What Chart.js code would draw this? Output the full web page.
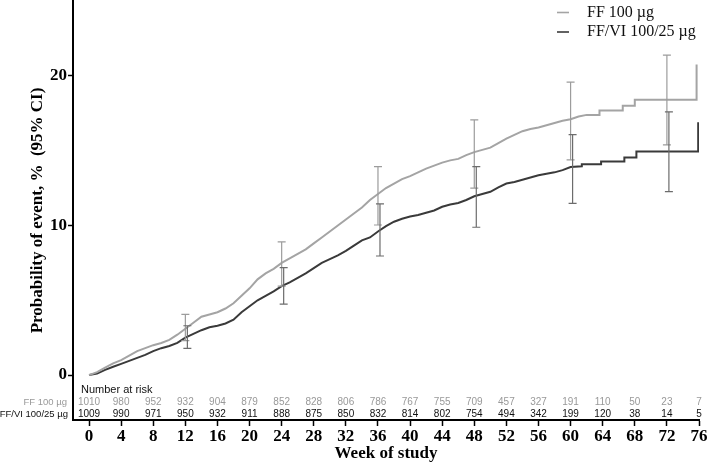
<!DOCTYPE html>
<html>
<head>
<meta charset="utf-8">
<script src="https://cdn.jsdelivr.net/npm/chart.js@4"></script>
<style>
html, body { margin: 0; padding: 0; background: #fff; }
#wrap { width: 708px; height: 466px; }
</style>
</head>
<body>
<div id="wrap"><canvas id="chart"></canvas></div>
<script>
const seriesNames = ["FF 100 µg", "FF/VI 100/25 µg"];

// KM curves (week, cumulative % with event); late part kept as explicit stairs
const ffWeeks = [0,1,2,3,4,5,6,7,8,9,10,11,12,13,14,15,16,17,18,19,20,21,22,23,24,25,26,27,28,29,30,
  31,32,33,34,35,36,37,38,39,40,41,42,43,44,45,46,47,48,49,50,51,52,53,54,55,56,57,58,59,60,
  61,62,63.6,63.6,66.5,66.5,68,68,75.7,75.7];
const ffValues = [0,0.2,0.5,0.78,1.0,1.3,1.6,1.8,2.0,2.15,2.35,2.7,3.1,3.5,3.9,4.05,4.2,4.45,4.8,5.3,5.8,
  6.4,6.8,7.1,7.5,7.8,8.1,8.4,8.8,9.2,9.6,10.0,10.4,10.8,11.2,11.7,12.1,12.5,12.8,13.1,13.3,
  13.55,13.8,14.0,14.2,14.35,14.45,14.7,14.9,15.05,15.2,15.5,15.8,16.05,16.3,16.45,16.55,16.7,16.85,17.0,17.1,
  17.28,17.39,17.39,17.68,17.68,18.0,18.0,18.4,18.4,20.75];

const fvWeeks = [0,1,2,3,4,5,6,7,8,9,10,11,12,13,14,15,16,17,18,19,20,21,22,23,24,25,26,27,28,29,30,
  31,32,33,34,35,36,37,38,39,40,41,42,43,44,45,46,47,48,49,50,51,52,53,54,55,56,57,58,59,60,
  61.4,61.4,63.8,63.8,66.7,66.7,68.2,68.2,75.9,75.9];
const fvValues = [0,0.1,0.35,0.56,0.75,0.95,1.15,1.35,1.6,1.8,1.95,2.15,2.5,2.75,3.0,3.2,3.3,3.45,3.7,4.2,4.6,
  5.0,5.3,5.6,5.95,6.2,6.5,6.8,7.15,7.5,7.75,8.0,8.3,8.65,9.0,9.2,9.6,9.95,10.25,10.45,10.6,
  10.7,10.85,11.0,11.25,11.4,11.5,11.7,11.95,12.1,12.25,12.55,12.8,12.9,13.05,13.2,13.35,13.45,13.55,13.7,13.9,
  13.95,14.09,14.09,14.27,14.27,14.54,14.54,14.94,14.94,16.9];

// 95% CI bars
const ciWeeks = [12, 24, 36, 48, 60, 72];
const ffLow  = [2.3, 5.95, 10.03, 12.49, 14.38, 15.38];
const ffHigh = [4.06, 8.9, 13.93, 17.06, 19.58, 21.38];
const fvLow  = [1.79, 4.75, 7.96, 9.88, 11.48, 12.26];
const fvHigh = [3.3, 7.18, 11.44, 13.93, 16.07, 17.59];

// number at risk
const riskWeeks = [0,4,8,12,16,20,24,28,32,36,40,44,48,52,56,60,64,68,72,76];
const ffRisk = [1010,980,952,932,904,879,852,828,806,786,767,755,709,457,327,191,110,50,23,7];
const fvRisk = [1009,990,971,950,932,911,888,875,850,832,814,802,754,494,342,199,120,38,14,5];

const xTicks = riskWeeks;
const yTicks = [0, 10, 20];

const ffColor = "#a4a4a4";
const fvColor = "#3a3a3a";
const serif = '"Liberation Serif", "Times New Roman", serif';
const sans = '"Liberation Sans", Arial, sans-serif';

const extras = {
  id: "extras",
  afterDatasetsDraw(chart) {
    const ctx = chart.ctx;
    const x = chart.scales.x, y = chart.scales.y;
    ctx.save();
    ctx.lineWidth = 1.2;
    const bar = (w, lo, hi, color) => {
      const px = x.getPixelForValue(w);
      const p1 = y.getPixelForValue(lo), p2 = y.getPixelForValue(hi);
      ctx.strokeStyle = color;
      ctx.beginPath();
      ctx.moveTo(px, p1); ctx.lineTo(px, p2);
      ctx.moveTo(px - 4, p1); ctx.lineTo(px + 4, p1);
      ctx.moveTo(px - 4, p2); ctx.lineTo(px + 4, p2);
      ctx.stroke();
    };
    ciWeeks.forEach((w, i) => {
      bar(w, ffLow[i], ffHigh[i], "#9c9c9c");
      bar(w + 0.25, fvLow[i], fvHigh[i], "#6c6c6c");
    });
    ctx.restore();
  },
  afterDraw(chart) {
    const ctx = chart.ctx;
    const x = chart.scales.x, y = chart.scales.y;
    ctx.save();
    // number at risk
    ctx.textBaseline = "middle";
    ctx.fillStyle = "#111";
    ctx.textAlign = "left";
    ctx.font = "11px " + sans;
    ctx.fillText("Number at risk", 81, y.getPixelForValue(-1.0));
    const r1 = y.getPixelForValue(-1.82), r2 = y.getPixelForValue(-2.62);
    ctx.font = "9.5px " + sans;
    ctx.textAlign = "right";
    ctx.fillStyle = "#999";
    ctx.fillText(seriesNames[0], 67, r1);
    ctx.fillStyle = "#111";
    ctx.fillText(seriesNames[1], 68, r2);
    ctx.textAlign = "center";
    ctx.font = "10px " + sans;
    riskWeeks.forEach((w, i) => {
      const px = x.getPixelForValue(w);
      ctx.fillStyle = "#999";
      ctx.fillText(String(ffRisk[i]), px, r1);
      ctx.fillStyle = "#111";
      ctx.fillText(String(fvRisk[i]), px, r2);
    });
    // legend
    ctx.font = "16px " + serif;
    ctx.textAlign = "left";
    ctx.lineWidth = 1.6;
    [[ffColor, 12.5], [fvColor, 32]].forEach(([c, ly], i) => {
      ctx.strokeStyle = c;
      ctx.beginPath();
      ctx.moveTo(557, ly); ctx.lineTo(569, ly);
      ctx.stroke();
      ctx.fillStyle = "#111";
      ctx.fillText(seriesNames[i], 587, ly);
    });
    ctx.restore();
  }
};

const toPts = (ws, vs) => ws.map((w, i) => ({ x: w, y: vs[i] }));

new Chart(document.getElementById("chart"), {
  type: "line",
  data: {
    datasets: [
      { label: seriesNames[0], data: toPts(ffWeeks, ffValues), borderColor: ffColor, borderWidth: 2, pointRadius: 0, tension: 0, fill: false },
      { label: seriesNames[1], data: toPts(fvWeeks, fvValues), borderColor: fvColor, borderWidth: 2, pointRadius: 0, tension: 0, fill: false }
    ]
  },
  options: {
    responsive: true,
    maintainAspectRatio: false,
    animation: false,
    layout: { padding: { top: 1, right: 9, left: 0, bottom: 0 } },
    plugins: { legend: { display: false }, tooltip: { enabled: false } },
    scales: {
      x: {
        type: "linear",
        min: -2,
        max: 76,
        afterBuildTicks: (s) => { s.ticks = xTicks.map(v => ({ value: v })); },
        afterFit: (s) => { s.height = 46; s.paddingLeft = 0; s.paddingRight = 0; },
        grid: { display: true, drawOnChartArea: false, drawTicks: true, tickLength: 6, tickWidth: 1.5, tickColor: "#000" },
        border: { display: true, color: "#000", width: 2 },
        ticks: { color: "#000", padding: 0, maxRotation: 0, autoSkip: false, font: { family: serif, size: 17, weight: "bold" } },
        title: { display: true, text: "Week of study", color: "#000", padding: { top: 0, bottom: 2 }, font: { family: serif, size: 17, weight: "bold" } }
      },
      y: {
        type: "linear",
        min: -3,
        max: 25,
        afterBuildTicks: (s) => { s.ticks = yTicks.map(v => ({ value: v })); },
        afterFit: (s) => { s.width = 73; s.paddingTop = 0; s.paddingBottom = 0; },
        grid: { display: true, drawOnChartArea: false, drawTicks: true, tickLength: 5, tickWidth: 1.5, tickColor: "#000" },
        border: { display: true, color: "#000", width: 2 },
        ticks: { color: "#000", padding: 1, font: { family: serif, size: 17, weight: "bold" } },
        title: { display: true, text: "Probability of event, %  (95% CI)", color: "#000", padding: { top: 27, bottom: 0 }, font: { family: serif, size: 17, weight: "bold" } }
      }
    }
  },
  plugins: [extras]
});
</script>
</body>
</html>
